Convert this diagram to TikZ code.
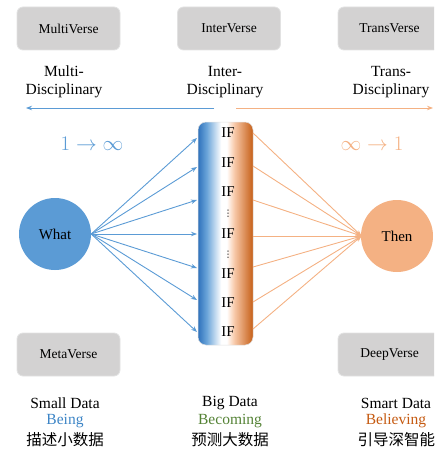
\documentclass[tikz,border=0pt]{standalone}
\usepackage{fontspec}
\setmainfont{Liberation Serif}
\newfontfamily\cjk{Noto Sans CJK SC}
\newfontfamily\dejavu{DejaVu Sans}
\usetikzlibrary{arrows.meta}
\definecolor{lblue}{HTML}{5B9BD5}
\definecolor{lorange}{HTML}{F4B183}
\definecolor{gboxc}{HTML}{D3D2D2}
\definecolor{gboxd}{HTML}{E2E2E2}
\definecolor{beingc}{HTML}{3D85C6}
\definecolor{becomingc}{HTML}{548235}
\definecolor{believingc}{HTML}{C55A11}
\definecolor{barblue}{HTML}{2F72BC}
\definecolor{barorange}{HTML}{C65F17}
\pgfdeclarehorizontalshading{ifbar}{100bp}{color(0bp)=(barblue); color(25bp)=(barblue); color(33bp)=(lblue!90); color(46bp)=(white); color(51bp)=(white); color(58bp)=(lorange!70); color(75bp)=(barorange); color(100bp)=(barorange)}
\tikzset{
  gbox/.style={rectangle, rounded corners=6pt, minimum width=103pt, minimum height=43pt, fill=gboxc, draw=gboxd, line width=0.8pt, font=\fontsize{13.5}{16}\selectfont},
  lbl/.style={align=center, font=\fontsize{15.5}{18}\selectfont},
  btxt/.style={font=\fontsize{15.5}{18}\selectfont},
  iflbl/.style={font=\fontsize{15}{17}\selectfont, inner sep=0pt},
  dotlbl/.style={font=\dejavu\fontsize{9}{9}\selectfont, inner sep=0pt},
  bar/.style={line width=0.5pt, draw=black!12},
  barrow/.style={draw=lblue, line width=0.9pt, -{Stealth[length=6pt,width=4.5pt]}},
  oarrow/.style={draw=lorange, line width=0.9pt, -{Stealth[length=6pt,width=4.5pt]}},
}
\begin{document}
\begin{tikzpicture}[x=1pt,y=-1pt]
\useasboundingbox (0,0) rectangle (434,452);
\clip (0,0) rectangle (434,452);
% top boxes
\node[gbox] (multi) at (68.5,28.5) {MultiVerse};
\node[gbox] (inter) at (229,28.5) {InterVerse};
\node[gbox] (trans) at (389.5,28.5) {TransVerse};
\node[gbox] (meta) at (68.5,354.5) {MetaVerse};
\node[gbox] (deep) at (389.5,354.5) {DeepVerse};
% discipline labels
\node[lbl] (lmulti) at (64,82) {Multi-\\Disciplinary};
\node[lbl] (linter) at (225,82) {Inter-\\Disciplinary};
\node[lbl] (ltrans) at (391,82) {Trans-\\Disciplinary};
% top arrows
\coordinate (ba1) at (214,108);
\coordinate (ba2) at (26,108);
\coordinate (oa1) at (236,108);
\coordinate (oa2) at (433,108);
\draw[barrow] (ba1) -- (ba2);
\draw[oarrow] (oa1) -- (oa2);
% 1 -> inf
\node[text=lblue, font=\fontsize{20}{22}\selectfont] (one) at (92,144) {$1\rightarrow\infty$};
\node[text=lorange, font=\fontsize{20}{22}\selectfont] (inf) at (372,144) {$\infty\rightarrow1$};
% bar
\node[bar, shading=ifbar, rounded corners=8pt, minimum width=55pt, minimum height=223pt, inner sep=0pt] (bar) at (225.5,233.5) {};
\node[iflbl] (if1) at (228,133) {IF};
\node[iflbl] (if2) at (228,163) {IF};
\node[iflbl] (if3) at (228,192) {IF};
\node[dotlbl] (d1) at (228,214) {⋮};
\node[iflbl] (if4) at (228,234) {IF};
\node[dotlbl] (d2) at (228,255) {⋮};
\node[iflbl] (if5) at (228,274) {IF};
\node[iflbl] (if6) at (228,303) {IF};
\node[iflbl] (if7) at (228,332) {IF};
% circles
\node[circle, fill=lblue, minimum size=72pt, inner sep=0pt, font=\fontsize{15}{17}\selectfont] (what) at (55,234) {What};
\node[circle, fill=lorange, minimum size=72pt, inner sep=0pt, font=\fontsize{15}{17}\selectfont] (then) at (397,236) {Then};
% left arrow ends
\coordinate (l1) at (197,138);
\coordinate (l2) at (197,167);
\coordinate (l3) at (197,200);
\coordinate (l4) at (197,234);
\coordinate (l5) at (197,268);
\coordinate (l6) at (197,300);
\coordinate (l7) at (197,332);
\foreach \i in {1,...,7} \draw[barrow] (what.east) -- (l\i);
% right arrow starts
\coordinate (r1) at (253,133);
\coordinate (r2) at (253,166);
\coordinate (r3) at (253,200);
\coordinate (r4) at (253,236);
\coordinate (r5) at (253,267);
\coordinate (r6) at (253,302);
\coordinate (r7) at (253,329);
\coordinate (tin) at (361.5,236);
\foreach \i in {1,...,7} \draw[oarrow] (r\i) -- (tin);
% bottom texts
\node[btxt] (sd) at (65,403) {Small Data};
\node[btxt, text=beingc] (being) at (65,421) {Being};
\node[btxt] (cn1) at (65,440) {\cjk 描述小数据};
\node[btxt] (bd) at (230,403) {Big Data};
\node[btxt, text=becomingc] (becoming) at (230,421) {Becoming};
\node[btxt] (cn2) at (230,440) {\cjk 预测大数据};
\node[btxt] (smd) at (396,403) {Smart Data};
\node[btxt, text=believingc] (believing) at (396,421) {Believing};
\node[btxt, anchor=west] (cn3) at (354,440) {\cjk 引导深智能};
\end{tikzpicture}
\end{document}
